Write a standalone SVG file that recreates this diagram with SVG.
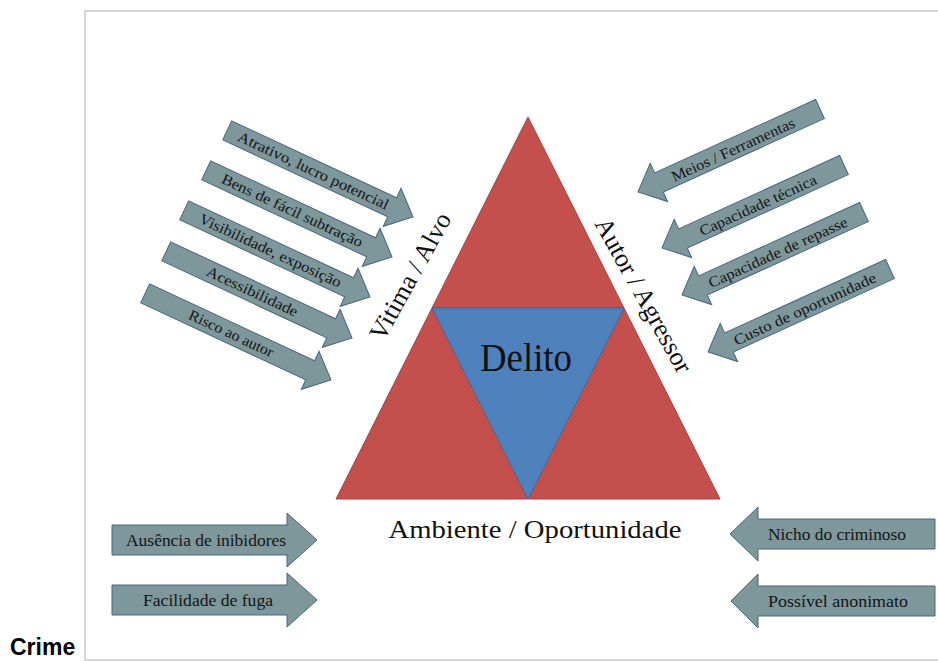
<svg xmlns="http://www.w3.org/2000/svg" width="938" height="661" viewBox="0 0 938 661">
<style>
.frame{fill:none;stroke:#d6d6d6;stroke-width:2}
.arrow{fill:#7D979B;stroke:#4A6780;stroke-width:1}
.red{fill:#C4504D;stroke:#A9423F;stroke-width:1}
.blue{fill:#4F81BD;stroke:#3E6BA0;stroke-width:1}
.at{font-family:"Liberation Serif","Times New Roman",serif;font-size:15px;fill:#151515;text-anchor:middle;dominant-baseline:central}
.bt{font-family:"Liberation Serif","Times New Roman",serif;font-size:17px;fill:#151515;text-anchor:middle}
.big{font-family:"Liberation Serif","Times New Roman",serif;font-size:26px;fill:#111;text-anchor:middle}
.cap{font-family:"Liberation Sans",Arial,sans-serif;font-size:23px;font-weight:bold;fill:#000}
</style>
<defs>
<path id="ar" d="M0,0 L-23,-21 L-23,-10.5 L-205,-10.5 L-205,10.5 L-23,10.5 L-23,21 Z"/>
<path id="al" d="M0,0 L23,-21 L23,-10.5 L200,-10.5 L200,10.5 L23,10.5 L23,21 Z"/>
</defs>
<rect class="frame" x="85" y="11" width="900" height="649"/>
<text class="cap" x="10" y="655">Crime</text>

<g id="triangle">
<polygon class="red" points="528,117 432,308 624,308"/>
<polygon class="red" points="432,308 336,499 528,499"/>
<polygon class="red" points="624,308 528,499 720,499"/>
<polygon class="blue" points="432,308 624,308 528,499"/>
<text x="526" y="371" font-family="Liberation Serif,'Times New Roman',serif" font-size="40" fill="#111" text-anchor="middle" textLength="92" lengthAdjust="spacingAndGlyphs">Delito</text>
</g>

<g id="label-vitima"><text class="big" transform="translate(410,276) rotate(-61)" dy="9">Vitima / Alvo</text></g>
<g id="label-autor"><text class="big" transform="translate(644,295) rotate(61)" dy="9">Autor / Agressor</text></g>
<g id="label-ambiente"><text class="big" x="535" y="538" textLength="293" lengthAdjust="spacingAndGlyphs">Ambiente / Oportunidade</text></g>

<g id="l1" transform="translate(413,217) rotate(25)"><use href="#ar" class="arrow"/><text class="at" x="-110" y="0" textLength="165" lengthAdjust="spacingAndGlyphs">Atrativo, lucro potencial</text></g>
<g id="l2" transform="translate(392,257) rotate(25)"><use href="#ar" class="arrow"/><text class="at" x="-110" y="0" textLength="154" lengthAdjust="spacingAndGlyphs">Bens de fácil subtração</text></g>
<g id="l3" transform="translate(370,297) rotate(25)"><use href="#ar" class="arrow"/><text class="at" x="-110" y="0" textLength="155" lengthAdjust="spacingAndGlyphs">Visibilidade, exposição</text></g>
<g id="l4" transform="translate(352,338) rotate(25)"><use href="#ar" class="arrow"/><text class="at" x="-110" y="0" textLength="99" lengthAdjust="spacingAndGlyphs">Acessibilidade</text></g>
<g id="l5" transform="translate(331,380) rotate(25)"><use href="#ar" class="arrow"/><text class="at" x="-110" y="0" textLength="92" lengthAdjust="spacingAndGlyphs">Risco ao autor</text></g>

<g id="r1" transform="translate(638,192) rotate(-24.5)"><use href="#al" class="arrow"/><text class="at" x="104" y="1" textLength="134" lengthAdjust="spacingAndGlyphs">Meios / Ferramentas</text></g>
<g id="r2" transform="translate(662,248) rotate(-24.5)"><use href="#al" class="arrow"/><text class="at" x="105" y="1" textLength="127" lengthAdjust="spacingAndGlyphs">Capacidade técnica</text></g>
<g id="r3" transform="translate(682,295) rotate(-24.5)"><use href="#al" class="arrow"/><text class="at" x="105" y="1" textLength="151" lengthAdjust="spacingAndGlyphs">Capacidade de repasse</text></g>
<g id="r4" transform="translate(708,352) rotate(-24.5)"><use href="#al" class="arrow"/><text class="at" x="106" y="1" textLength="155" lengthAdjust="spacingAndGlyphs">Custo de oportunidade</text></g>

<g id="b1"><path class="arrow" d="M112,525 H287 V513 L317,540 L287,567 V555 H112 Z"/><text class="bt" x="206" y="546" textLength="160" lengthAdjust="spacingAndGlyphs">Ausência de inibidores</text></g>
<g id="b2"><path class="arrow" d="M112,585 H287 V573 L317,600 L287,627 V615 H112 Z"/><text class="bt" x="208" y="606" textLength="130" lengthAdjust="spacingAndGlyphs">Facilidade de fuga</text></g>
<g id="b3"><path class="arrow" d="M935,519 H758 V507 L730,534 L758,561 V549 H935 Z"/><text class="bt" x="837" y="540" textLength="138" lengthAdjust="spacingAndGlyphs">Nicho do criminoso</text></g>
<g id="b4"><path class="arrow" d="M935,586 H758 V574 L731,601 L758,628 V616 H935 Z"/><text class="bt" x="838" y="607" textLength="140" lengthAdjust="spacingAndGlyphs">Possível anonimato</text></g>
</svg>
